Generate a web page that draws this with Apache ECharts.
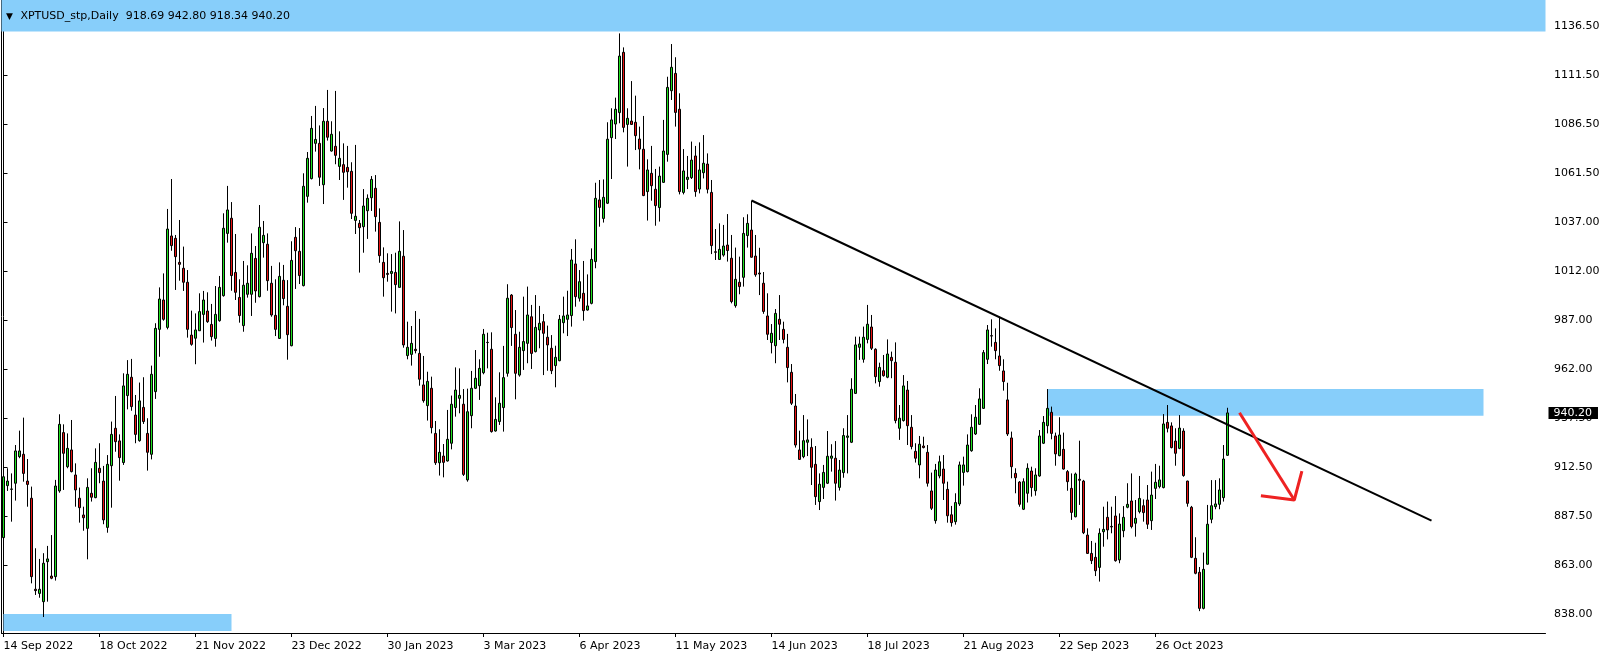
<!DOCTYPE html>
<html><head><meta charset="utf-8">
<script src="https://cdn.jsdelivr.net/npm/echarts@6/dist/echarts.min.js"></script>
<style>html,body{margin:0;padding:0;background:#fff}#c{width:1604px;height:657px}</style>
</head><body><div id="c"></div>
<script>
const opens=[876.9,903.3,901.4,904.5,918.0,919.2,905.6,896.9,850.7,848.6,844.4,864.7,857.4,857.1,900.6,930.2,912.9,921.4,908.7,896.9,888.4,881.6,899.4,897.2,912.1,905.6,882.1,913.4,932.4,926.0,915.0,949.0,958.3,939.1,926.1,943.0,929.8,919.2,951.0,982.6,997.5,983.6,1030.0,1028.8,1016.6,1013.6,1006.5,979.7,978.1,981.9,990.2,991.9,985.1,978.0,987.0,999.7,1031.3,1039.0,1011.5,998.8,984.5,1000.4,1000.4,1018.6,999.2,1026.6,1025.8,1006.0,989.7,978.0,1007.5,994.3,974.3,1029.3,1022.2,1004.8,1050.1,1059.1,1077.0,1077.0,1056.0,1088.2,1073.1,1075.5,1065.3,1066.2,1064.8,1062.8,1037.9,1036.4,1034.7,1042.8,1049.4,1054.2,1036.9,1016.6,1011.0,1011.0,1011.5,1003.9,1019.7,969.3,969.9,972.5,970.4,954.4,943.9,952.7,929.8,914.9,918.3,915.8,924.8,942.9,947.6,944.6,906.2,938.8,952.7,954.0,960.6,975.9,972.5,931.0,935.8,942.9,960.3,1000.0,980.1,959.4,971.8,975.5,989.0,971.3,982.3,986.5,978.6,973.0,964.2,966.7,986.0,987.7,989.6,1015.8,998.4,1000.9,992.4,995.8,1017.0,1048.3,1038.9,1046.6,1079.9,1086.8,1092.6,1123.2,1086.6,1088.3,1087.7,1079.2,1074.0,1052.5,1061.8,1053.7,1044.4,1057.2,1071.4,1103.7,1112.5,1094.3,1052.1,1058.7,1059.6,1070.6,1053.8,1062.1,1066.5,1052.1,1022.0,1018.1,1020.3,1025.4,1018.7,994.6,1006.5,1009.0,1030.2,1033.0,1019.8,1011.2,1006.0,989.4,975.9,974.3,987.7,982.6,973.5,960.8,943.7,921.4,918.0,925.3,922.7,914.1,895.2,902.4,904.5,917.2,917.2,902.4,909.9,927.8,925.3,950.1,973.5,967.4,977.5,983.8,972.5,956.1,961.6,958.3,968.4,965.9,932.4,936.3,951.8,932.9,920.7,913.8,923.4,920.2,900.6,885.5,908.2,911.7,901.4,888.5,885.0,894.0,910.0,910.4,921.0,929.5,934.4,942.5,967.4,979.4,976.0,969.1,961.5,946.8,927.5,909.5,905.1,891.3,899.4,910.7,900.7,908.2,924.8,933.7,940.5,928.5,918.5,921.7,910.4,901.9,887.5,906.5,905.6,878.2,868.9,866.9,861.8,879.9,887.2,882.6,887.9,865.6,880.4,892.3,895.5,884.2,890.1,893.1,896.0,885.5,901.9,902.8,902.3,935.4,933.6,925.9,922.2,931.0,905.6,892.3,866.4,859.3,841.0,863.4,886.2,892.6,893.8,897.2,918.69];
const highs=[914.6,912.1,909.5,923.9,931.2,937.8,916.8,902.8,871.5,866.1,869.0,872.7,878.2,906.2,939.5,934.4,929.8,936.6,914.6,902.3,892.6,907.0,912.1,922.2,924.8,913.3,918.8,935.8,948.8,929.3,960.3,967.0,967.6,949.3,955.6,958.3,937.5,964.2,985.7,1003.9,1011.0,1043.7,1058.9,1030.5,1038.1,1024.6,1012.7,992.1,990.7,1000.9,1002.1,1001.4,995.5,1004.6,1009.7,1041.5,1055.4,1047.2,1031.0,1008.0,1017.3,1015.1,1031.3,1024.9,1045.7,1037.6,1031.3,1014.8,1008.0,1016.6,1015.3,1007.6,1027.3,1034.5,1034.0,1061.8,1072.6,1090.9,1096.0,1086.1,1094.9,1104.1,1088.2,1103.6,1083.1,1077.0,1075.7,1067.4,1076.2,1038.1,1053.8,1051.1,1060.4,1060.9,1044.0,1024.2,1021.2,1020.8,1021.5,1037.4,1033.0,986.5,984.3,991.9,987.9,969.1,961.1,958.6,936.1,931.9,924.4,941.7,949.0,963.3,962.8,952.3,952.5,961.5,972.1,967.4,982.8,980.9,981.1,948.1,960.8,974.2,1005.5,1000.5,992.4,981.4,999.2,1004.3,995.0,1000.0,994.5,990.4,984.5,979.7,974.3,989.9,999.2,1002.2,1023.4,1028.3,1012.7,1017.3,1010.5,1023.7,1057.0,1058.4,1058.7,1087.7,1094.8,1100.2,1132.8,1125.7,1094.8,1108.6,1101.2,1085.5,1090.9,1068.9,1075.7,1064.0,1065.2,1088.9,1110.8,1127.4,1120.7,1102.4,1074.1,1070.6,1077.9,1075.7,1077.5,1081.2,1071.9,1058.4,1033.5,1036.4,1035.6,1041.1,1030.5,1024.1,1019.5,1039.5,1041.0,1047.9,1030.5,1024.0,1011.7,1000.9,985.3,992.9,1000.0,986.5,980.3,965.0,949.8,931.2,939.1,936.9,927.3,923.4,909.5,913.8,931.0,924.3,925.9,916.3,932.4,939.1,957.8,978.9,978.9,984.0,995.0,989.9,973.0,965.7,969.6,977.5,971.3,976.0,944.2,959.4,956.4,939.1,924.8,928.5,928.1,923.9,909.9,914.3,918.5,918.8,905.3,893.0,899.4,915.5,918.0,929.3,939.5,944.2,952.7,972.1,984.8,987.7,983.1,989.0,967.4,955.5,930.7,912.1,905.6,907.0,914.6,912.9,912.1,931.5,938.6,952.3,943.4,930.2,938.0,930.2,911.2,909.5,909.9,926.1,906.2,881.6,875.2,874.3,881.6,892.6,895.2,892.6,898.0,889.2,892.9,904.5,909.5,896.0,908.2,896.3,903.6,910.4,914.3,913.4,939.6,944.2,935.4,932.4,939.1,932.4,905.8,893.0,877.1,862.0,869.3,893.5,906.1,906.1,907.0,923.9,942.80];
const lows=[876.6,900.6,885.0,895.7,917.2,905.3,892.6,853.7,847.8,846.4,836.6,844.4,855.8,855.1,899.7,901.1,912.1,910.0,892.6,884.5,880.4,865.9,895.2,896.9,904.5,883.7,879.4,892.1,920.5,905.8,913.8,942.0,941.3,924.8,925.6,934.6,910.9,916.6,947.3,968.7,987.0,982.6,1022.5,1002.6,1007.3,1002.1,978.4,974.3,964.9,981.8,975.9,985.9,976.9,973.8,986.5,999.2,1026.6,1002.2,997.5,986.0,981.4,998.7,989.4,996.1,998.8,1019.0,1002.2,989.0,979.2,977.7,994.8,967.2,974.0,1003.1,1005.6,1004.4,1046.9,1058.7,1072.8,1055.4,1046.2,1078.4,1072.8,1066.4,1058.4,1048.3,1054.5,1038.6,1031.0,1011.4,1021.5,1028.5,1042.7,1032.2,1016.4,999.2,1006.8,991.6,990.7,1003.9,973.3,967.4,964.2,970.4,954.0,945.4,936.3,929.8,913.8,908.4,907.5,915.5,921.7,938.3,940.0,908.2,905.3,932.4,952.3,946.8,959.8,962.8,930.2,930.7,934.1,930.7,958.6,974.2,947.1,958.6,962.0,965.4,962.5,970.9,973.0,959.4,961.6,959.9,953.2,966.4,980.6,979.2,984.0,994.1,996.7,987.0,992.1,995.3,1013.6,1034.7,1036.8,1046.2,1058.9,1079.2,1087.2,1082.6,1065.2,1086.3,1073.6,1063.8,1050.2,1037.8,1047.9,1035.2,1037.3,1056.9,1067.7,1099.0,1085.5,1051.1,1051.1,1053.8,1058.9,1049.9,1051.6,1059.2,1051.6,1020.8,1017.8,1017.8,1019.5,1017.0,995.8,993.6,1000.4,1004.3,1024.1,1019.0,1009.3,1000.0,990.5,977.2,970.4,965.4,977.2,975.5,955.7,944.2,922.6,916.3,917.2,918.3,903.6,893.5,890.9,896.5,904.1,910.4,895.7,900.8,907.3,909.5,924.9,949.8,967.1,965.7,975.5,972.1,955.2,953.5,958.6,957.8,957.8,934.9,926.5,935.8,923.9,921.7,915.0,907.0,922.2,902.8,890.9,884.0,907.0,896.0,884.5,882.5,883.5,893.0,903.3,910.0,920.5,929.0,934.1,942.2,965.0,973.8,967.4,961.6,951.5,928.5,907.0,899.4,892.6,890.9,894.7,897.7,898.2,907.8,924.4,929.8,926.8,913.4,918.2,911.4,900.7,885.9,887.2,893.5,878.7,868.6,863.5,857.4,854.6,872.3,876.0,879.1,864.7,863.9,877.1,891.8,881.6,877.4,889.2,885.0,881.3,880.8,896.5,901.9,901.9,930.3,922.2,913.4,921.8,907.8,892.6,866.5,858.3,839.6,840.5,863.2,884.2,891.3,891.3,895.2,918.34];
const closes=[907.8,905.6,901.6,920.9,920.9,909.5,903.9,857.1,850.0,850.7,863.9,866.1,856.3,903.1,934.4,919.7,922.2,910.4,901.1,892.1,887.0,902.4,897.4,915.1,909.9,885.9,914.1,929.3,925.6,917.5,953.9,959.8,943.4,929.3,946.3,935.8,920.2,959.8,983.1,998.0,987.7,1033.5,1025.1,1019.5,1015.6,1006.5,982.6,975.0,982.3,991.6,997.5,986.5,978.9,990.2,1003.9,1033.9,1043.2,1009.9,1001.4,989.6,1005.0,1006.0,1021.2,1002.1,1034.4,1030.3,1007.3,989.9,982.6,1009.5,998.2,979.9,1017.6,1022.5,1009.9,1055.2,1069.4,1084.6,1079.0,1059.8,1088.2,1080.1,1081.6,1070.9,1069.4,1062.3,1062.6,1041.5,1040.0,1034.2,1045.2,1049.1,1058.7,1039.8,1020.0,1008.8,1010.5,1012.0,1005.3,1022.2,974.7,973.5,975.5,971.8,957.3,946.4,956.2,932.7,914.9,920.2,915.1,926.8,944.6,951.8,949.1,909.0,940.8,952.7,957.8,962.8,980.1,976.0,930.7,936.9,945.1,958.1,998.4,983.5,960.3,973.5,976.4,989.9,970.4,983.6,985.7,980.6,974.7,961.6,968.4,987.7,989.4,989.9,1017.8,999.2,1006.8,992.1,994.5,1018.1,1049.1,1044.5,1049.6,1079.1,1088.9,1094.3,1121.3,1085.1,1089.7,1086.6,1080.9,1074.1,1050.5,1063.5,1055.5,1045.4,1060.4,1073.1,1105.4,1115.6,1092.7,1052.5,1063.0,1059.8,1068.5,1052.5,1063.5,1066.9,1053.7,1025.1,1021.7,1023.2,1024.9,1022.6,996.7,1008.0,1004.3,1031.3,1036.4,1019.2,1010.3,1010.7,991.7,980.1,980.6,990.7,985.2,977.5,963.2,945.1,923.9,916.6,926.1,926.5,912.6,897.7,904.0,910.0,918.2,918.3,904.5,911.2,928.7,928.5,952.2,974.7,975.2,978.6,985.2,973.0,958.6,963.3,959.1,970.1,966.7,936.3,937.5,953.9,933.7,923.1,917.2,924.3,922.6,904.5,891.8,911.2,915.4,904.5,888.0,884.5,894.7,913.8,913.8,923.9,932.9,938.0,947.3,970.8,982.3,979.2,971.8,964.2,956.1,929.5,912.9,907.3,893.8,905.3,912.1,902.3,908.7,928.5,935.4,942.5,929.8,919.4,929.0,911.7,905.3,889.7,909.2,906.0,879.4,868.9,865.2,860.1,879.1,881.1,880.8,882.3,865.2,883.8,887.2,893.8,882.5,886.7,896.8,889.6,883.7,898.5,905.0,906.2,934.6,932.4,922.6,919.7,932.5,908.4,894.3,866.9,858.8,841.0,860.8,883.7,893.1,894.0,901.1,916.8,940.20];

const slotCount = 386;
const dateTicks = [[0,'14 Sep 2022'],[24,'18 Oct 2022'],[48,'21 Nov 2022'],[72,'23 Dec 2022'],[96,'30 Jan 2023'],[120,'3 Mar 2023'],[144,'6 Apr 2023'],[168,'11 May 2023'],[192,'14 Jun 2023'],[216,'18 Jul 2023'],[240,'21 Aug 2023'],[264,'22 Sep 2023'],[288,'26 Oct 2023']];
const yTickValues = [838,862.875,887.75,912.625,937.5,962.375,987.25,1012.125,1037,1061.875,1086.75,1111.625,1136.5];
const yTickLabels = ['838.00','863.00','887.50','912.50','937.50','962.00','987.00','1012.00','1037.00','1061.50','1086.50','1111.50','1136.50'];
const lastPrice = 940.20;
const titleText = 'XPTUSD_stp,Daily  918.69 942.80 918.34 940.20';
const trendLine = [[187,1048.0],[357,885.5]];
const arrowShaft = [[309.0,940.3],[322.7,896.0]];
const arrowHead = [[314.35,898.2],[322.7,896.0],[324.6,910.7]];
const topZone = [1133.8, 1149.75];
const bottomZone = {x:[0,57], y:[829.5,838.15]};
const midZone = {x:[261,370], y:[938.8,952.3]};

const FONT = 'DejaVu Sans';
const tickMap = {};
dateTicks.forEach(d => { tickMap[d[0]] = d[1]; });
const cats = [];
for (let i = 0; i < slotCount; i++) cats.push(i);
const candles = opens.map((o, i) => [o, closes[i], lows[i], highs[i]]);
const zoneStyle = {color: '#87cefa', opacity: 1};

const chart = echarts.init(document.getElementById('c'), null, {renderer: 'canvas'});
chart.setOption({
  animation: false,
  backgroundColor: '#ffffff',
  title: {
    text: '{t|▼} ' + titleText,
    left: 1, top: 6,
    textStyle: {fontFamily: FONT, fontSize: 11, fontWeight: 'normal', color: '#000',
      rich: {t: {fontSize: 9, color: '#000', fontFamily: FONT, padding: [0, 4, 0, 0]}}}
  },
  grid: {left: 1.5, top: 0, width: slotCount * 4, height: 633},
  xAxis: [{
    type: 'category', data: cats, boundaryGap: true,
    axisLine: {show: true, lineStyle: {color: '#000', width: 1}},
    axisTick: {show: true, alignWithLabel: true, length: 4, lineStyle: {color: '#000'},
      interval: (idx) => tickMap[idx] !== undefined},
    axisLabel: {show: true, interval: (idx) => tickMap[idx] !== undefined,
      formatter: (v, idx) => tickMap[idx] || '', align: 'left', margin: 8,
      color: '#000', fontFamily: FONT, fontSize: 11},
    splitLine: {show: false}
  }, {
    type: 'value', min: -0.5, max: slotCount - 0.5, show: false
  }],
  yAxis: [{
    type: 'value', position: 'right', offset: 1.5, min: 828.5, max: 1149.75, scale: true,
    axisLine: {show: true, lineStyle: {color: '#000', width: 1}},
    axisTick: {show: true, length: 4, lineStyle: {color: '#000'}, customValues: yTickValues},
    axisLabel: {show: true, customValues: yTickValues, margin: 7, color: '#000', fontFamily: FONT, fontSize: 11,
      padding: [4, 0, 0, 0],
      formatter: (v) => { const k = Math.round((v - yTickValues[0]) / (yTickValues[1] - yTickValues[0])); return yTickLabels[k] || ''; }},
    splitLine: {show: false}
  }, {
    type: 'value', position: 'left', min: 828.5, max: 1149.75,
    axisLine: {show: true, onZero: false, lineStyle: {color: '#000', width: 1}},
    axisTick: {show: false}, axisLabel: {show: false}, splitLine: {show: false}
  }],
  series: [{
    type: 'candlestick', xAxisIndex: 0, yAxisIndex: 0,
    data: candles, barWidth: 2,
    itemStyle: {color: '#1fe01f', color0: '#e81212', borderColor: '#000', borderColor0: '#000', borderColorDoji: '#000', borderWidth: 1},
    markArea: {
      silent: true,
      itemStyle: zoneStyle,
      data: [
        [{yAxis: topZone[0]}, {yAxis: topZone[1]}],
        [{xAxis: bottomZone.x[0], yAxis: bottomZone.y[0]}, {xAxis: bottomZone.x[1], yAxis: bottomZone.y[1]}],
        [{xAxis: midZone.x[0], yAxis: midZone.y[0]}, {xAxis: midZone.x[1], yAxis: midZone.y[1]}]
      ]
    },
    markLine: {
      silent: true, symbol: ['none', 'none'],
      lineStyle: {color: 'rgba(0,0,0,0)', width: 0, type: 'solid'},
      label: {show: true, position: 'end', distance: 3, formatter: lastPrice.toFixed(2),
        backgroundColor: '#000', color: '#fff', padding: [1, 6, 0, 5], fontFamily: FONT, fontSize: 11, opacity: 1},
      data: [{yAxis: lastPrice}]
    }
  }, {
    type: 'line', xAxisIndex: 1, yAxisIndex: 0, data: trendLine, symbol: 'none', silent: true,
    lineStyle: {color: '#000', width: 2}
  }, {
    type: 'line', xAxisIndex: 1, yAxisIndex: 0, data: arrowShaft, symbol: 'none', silent: true,
    lineStyle: {color: '#ee2222', width: 3}
  }, {
    type: 'line', xAxisIndex: 1, yAxisIndex: 0, data: arrowHead, symbol: 'none', silent: true,
    lineStyle: {color: '#ee2222', width: 3}
  }]
});
</script></body></html>
